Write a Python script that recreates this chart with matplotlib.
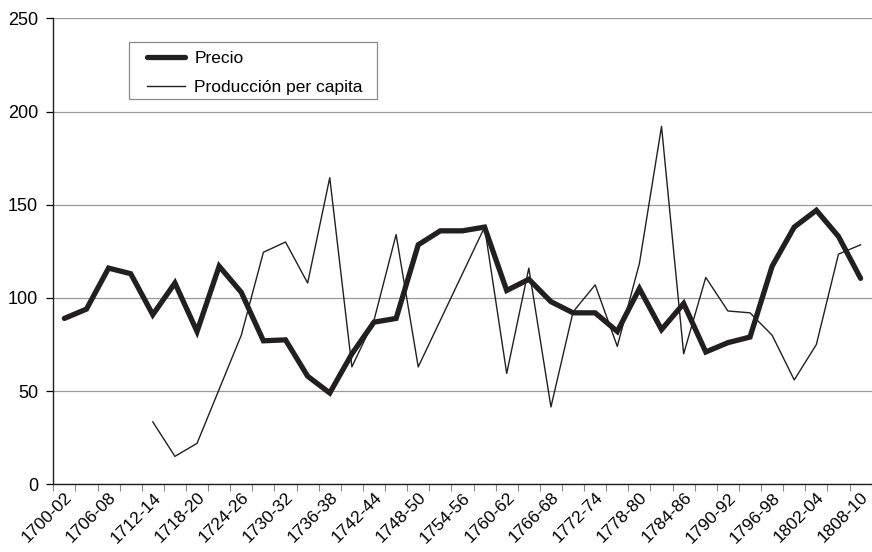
import numpy as np
import matplotlib
matplotlib.use("Agg")
import matplotlib.pyplot as plt
from matplotlib.patches import Rectangle
from matplotlib.ticker import FixedLocator

plt.rcParams['font.family'] = ['Liberation Sans', 'DejaVu Sans']

# Periodos trienales 1700-02 ... 1808-10
periodos = [f"{a}-{str(a + 2)[-2:]}" for a in range(1700, 1809, 3)]

precio = [89, 94, 116, 113, 91, 108, 82, 117, 103, 77, 77.5, 58, 49, 70, 87, 89,
          128.5, 136, 136, 138, 104, 110, 98, 92, 92, 82, 105, 83, 97, 71, 76, 79,
          117, 138, 147, 133, 110.5]

produccion = [np.nan, np.nan, np.nan, np.nan, 33.5, 15, 22, 51, 80, 124.5, 130, 108,
              164.5, 63, 88, 134, 63, 88, 113, 138, 59.5, 116, 41.5, 92.5, 107, 74,
              118.5, 192, 70, 111, 93, 92, 80, 56, 75, 123.5, 128.5]

COLOR_LINEA = "#231f20"
COLOR_GRID = "#9a9a9a"

fig = plt.figure(figsize=(8.72, 5.52), dpi=100)
ax = fig.add_axes([0.0611, 0.1226, 0.9385, 0.8442])

x = np.arange(len(periodos))
ax.plot(x, precio, color=COLOR_LINEA, linewidth=3.8, solid_joinstyle="miter",
        solid_capstyle="round", label="Precio", zorder=3)
ax.plot(x, produccion, color=COLOR_LINEA, linewidth=1.0, label="Producción per capita", zorder=2)

ax.set_xlim(-0.5, len(periodos) - 0.5)
ax.set_ylim(0, 250)
ax.set_yticks([0, 50, 100, 150, 200, 250])
ax.yaxis.grid(True, color=COLOR_GRID, linewidth=0.9)
ax.set_axisbelow(True)

# etiquetas cada dos periodos, marcas en los limites de categoria
ax.xaxis.set_major_locator(FixedLocator(x[::2]))
ax.set_xticklabels(periodos[::2], rotation=45, ha="right", va="top",
                   rotation_mode="anchor", fontsize=12.5)
ax.xaxis.set_minor_locator(FixedLocator(np.arange(-0.5, len(periodos), 1.0)))
ax.tick_params(axis="x", which="major", length=0, pad=4)
ax.tick_params(axis="x", which="minor", length=5, color="#8a8a8a", width=0.8)
ax.tick_params(axis="y", length=5, width=0.9, labelsize=13, pad=6)

for lado in ["top", "right"]:
    ax.spines[lado].set_visible(False)
ax.spines["left"].set_color(COLOR_LINEA)
ax.spines["bottom"].set_color(COLOR_LINEA)
ax.spines["left"].set_linewidth(1.0)
ax.spines["bottom"].set_linewidth(1.0)

# recuadro de la leyenda dibujado aparte
ax.add_patch(Rectangle((0.0928, 0.8268), 0.303, 0.1217, transform=ax.transAxes,
                       facecolor="white", edgecolor="#8a8a8a", linewidth=0.9, zorder=4))
leg = ax.legend(loc="upper left", bbox_to_anchor=(0.1141, 0.930), borderaxespad=0,
                fontsize=12.5, frameon=False, handlelength=2.2, handletextpad=0.55,
                labelspacing=0.78, borderpad=0)
leg.set_zorder(5)

plt.savefig("out.png", dpi=100)
